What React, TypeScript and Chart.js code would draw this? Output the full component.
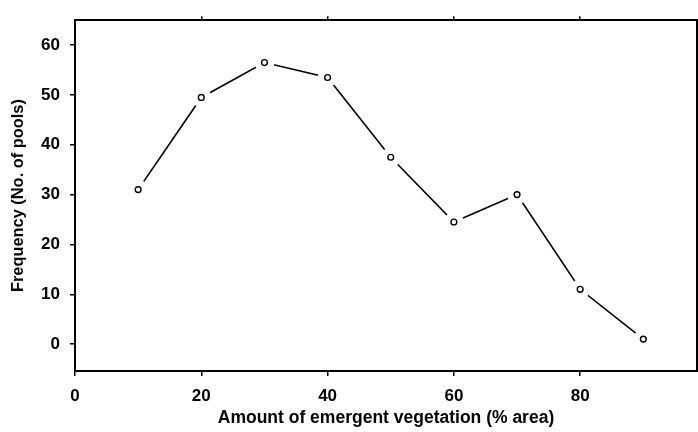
import React, { useEffect, useRef } from "react";
import { Chart, registerables } from "chart.js";

Chart.register(...registerables);

const xValues = [10, 20, 30, 40, 50, 60, 70, 80, 90];
const frequency = [31, 49.5, 56.5, 53.5, 37.5, 24.5, 30, 11, 1];
const xTicks = [0, 20, 40, 60, 80];
const xTopTicks = [20, 40, 60, 80];
const yTicks = [0, 10, 20, 30, 40, 50, 60];
const xTitle = "Amount of emergent vegetation (% area)";
const yTitle = "Frequency (No. of pools)";

const X_MIN = 0;
const X_MAX = 98.5;
const Y_MIN = -5.4;
const Y_MAX = 65;

export default function App() {
  const ref = useRef<HTMLCanvasElement | null>(null);

  useEffect(() => {
    if (!ref.current) return;
    const pts = xValues.map((x, i) => ({ x, y: frequency[i] }));
    const family = "'Liberation Sans', Arial, sans-serif";
    const tickFont = { family, size: 17, weight: "bold" as const };
    const xTitleFont = { family, size: 17.5, weight: "bold" as const };
    const yTitleFont = { family, size: 16.4, weight: "bold" as const };
    const chart = new Chart(ref.current, {
      type: "line",
      data: {
        datasets: [
          {
            data: pts,
            order: 0,
            showLine: false,
            pointStyle: "circle",
            pointRadius: 2.9,
            pointBorderWidth: 1.4,
            pointBorderColor: "#000",
            pointBackgroundColor: "#fff",
          },
          {
            data: pts,
            order: 1,
            showLine: false,
            pointStyle: "circle",
            pointRadius: 10,
            pointBorderWidth: 0,
            pointBorderColor: "#fff",
            pointBackgroundColor: "#fff",
          },
          {
            data: pts,
            order: 2,
            showLine: true,
            borderColor: "#000",
            borderWidth: 1.6,
            tension: 0,
            pointRadius: 0,
          },
        ],
      },
      options: {
        animation: false,
        responsive: false,
        events: [],
        layout: { autoPadding: false, padding: { top: 0, right: 0, left: 0, bottom: 3 } },
        plugins: { legend: { display: false }, tooltip: { enabled: false } },
        scales: {
          x: {
            type: "linear",
            position: "bottom",
            min: X_MIN,
            max: X_MAX,
            afterBuildTicks: (s: any) => {
              s.ticks = xTicks.map((v) => ({ value: v }));
            },
            afterFit: (s: any) => {
              s.height = 58;
            },
            border: { display: true, color: "#000", width: 2 },
            grid: { drawOnChartArea: false, drawTicks: true, tickLength: 5, color: "#000", lineWidth: 1.5 },
            ticks: { color: "#000", font: tickFont, padding: 10, maxRotation: 0 },
            title: { display: true, text: xTitle, color: "#000", font: xTitleFont, padding: { top: 0, bottom: 0 } },
          },
          x2: {
            type: "linear",
            position: "top",
            min: X_MIN,
            max: X_MAX,
            afterBuildTicks: (s: any) => {
              s.ticks = xTopTicks.map((v) => ({ value: v }));
            },
            afterFit: (s: any) => {
              s.height = 15;
            },
            border: { display: true, color: "#000", width: 2 },
            grid: { drawOnChartArea: false, drawTicks: true, tickLength: 4, color: "#000", lineWidth: 1.5 },
            ticks: { display: false },
          },
          y: {
            type: "linear",
            position: "left",
            min: Y_MIN,
            max: Y_MAX,
            afterBuildTicks: (s: any) => {
              s.ticks = yTicks.map((v) => ({ value: v }));
            },
            afterFit: (s: any) => {
              s.width = 75;
            },
            border: { display: true, color: "#000", width: 2 },
            grid: { drawOnChartArea: false, drawTicks: true, tickLength: 5, color: "#000", lineWidth: 1.5 },
            ticks: { color: "#000", font: tickFont, padding: 10 },
            title: { display: true, text: yTitle, color: "#000", font: yTitleFont, padding: { top: 9, bottom: 0 } },
          },
          y2: {
            type: "linear",
            position: "right",
            min: Y_MIN,
            max: Y_MAX,
            afterFit: (s: any) => {
              s.width = 1;
            },
            border: { display: true, color: "#000", width: 2 },
            grid: { drawOnChartArea: false, drawTicks: false },
            ticks: { display: false },
          },
        },
      },
    });
    return () => chart.destroy();
  }, []);

  return (
    <div style={{ position: "absolute", left: 0, top: 0, width: 698, height: 432, background: "#fff" }}>
      <canvas ref={ref} width={698} height={432} style={{ width: 698, height: 432, display: "block" }} />
    </div>
  );
}
